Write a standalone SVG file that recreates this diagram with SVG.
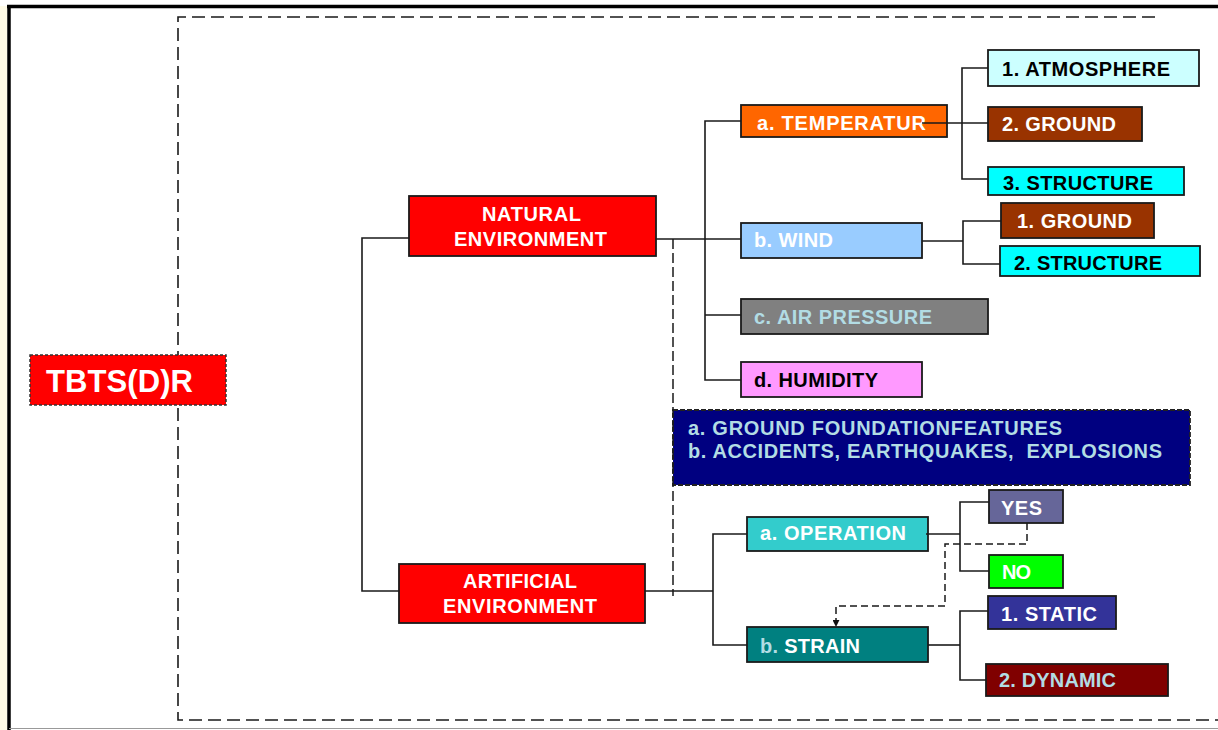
<svg xmlns="http://www.w3.org/2000/svg" width="1218" height="730" viewBox="0 0 1218 730">
  <style>
    text { font-family: "Liberation Sans", Arial, sans-serif; font-weight: bold; font-size: 20px; }
    .box { stroke: #1a1a1a; stroke-width: 1.8; }
    .wire { fill: none; stroke: #1a1a1a; stroke-width: 1.6; }
    .dash { fill: none; stroke: #1a1a1a; stroke-width: 1.5; stroke-dasharray: 7 4; }
    .dash-long { fill: none; stroke: #1a1a1a; stroke-width: 1.5; stroke-dasharray: 10 4; }
    .frame-dash { fill: none; stroke: #1a1a1a; stroke-width: 1.6; stroke-dasharray: 13 6; }
    .w { fill: #ffffff; }
    .k { fill: #000000; }
    .pb { fill: #b2dce4; }
  </style>
  <defs>
    <marker id="arrow" viewBox="0 0 8 8" refX="7" refY="4" markerWidth="7" markerHeight="7" orient="auto" markerUnits="userSpaceOnUse">
      <path d="M0,0 L8,4 L0,8 Z" fill="#111"/>
    </marker>
  </defs>

  <!-- page background and border -->
  <rect x="0" y="0" width="1218" height="730" fill="#ffffff"/>
  <rect x="0" y="6" width="7" height="724" fill="#fffbe6"/>
  <line x1="7" y1="6.5" x2="1218" y2="6.5" stroke="#000" stroke-width="3.5"/>
  <line x1="9" y1="5" x2="9" y2="730" stroke="#000" stroke-width="3.5"/>
  <line x1="9" y1="728.5" x2="1218" y2="728.5" stroke="#999" stroke-width="1.2"/>

  <!-- dashed enclosure -->
  <path class="frame-dash" d="M1155,17 H178 V720 H1218"/>

  <!-- nodes -->
  <g id="node-tbtsdr">
    <rect x="30" y="355" width="196" height="50" fill="#ff0000" stroke="#333" stroke-width="1.5" stroke-dasharray="3 2"/>
    <text x="46" y="392" class="w" style="font-size:31px" textLength="147" lengthAdjust="spacing">TBTS(D)R</text>
  </g>
  <g id="node-natural">
    <rect class="box" x="409" y="196" width="247" height="60" fill="#ff0000"/>
    <text x="482" y="221" class="w" textLength="99" lengthAdjust="spacing">NATURAL</text>
    <text x="454" y="246" class="w" textLength="153" lengthAdjust="spacing">ENVIRONMENT</text>
  </g>
  <g id="node-artificial">
    <rect class="box" x="399" y="564" width="246" height="59" fill="#ff0000"/>
    <text x="463" y="588" class="w" textLength="114" lengthAdjust="spacing">ARTIFICIAL</text>
    <text x="443" y="613" class="w" textLength="154" lengthAdjust="spacing">ENVIRONMENT</text>
  </g>
  <g id="node-temperature">
    <rect class="box" x="741" y="105" width="206" height="32" fill="#ff6600"/>
    <text x="757" y="130" class="w" textLength="169" lengthAdjust="spacing">a. TEMPERATUR</text>
  </g>
  <g id="node-atmosphere">
    <rect class="box" x="988" y="50" width="211" height="36" fill="#ccffff"/>
    <text x="1002" y="76" class="k" textLength="168" lengthAdjust="spacing">1. ATMOSPHERE</text>
  </g>
  <g id="node-temp-ground">
    <rect class="box" x="988" y="107" width="154" height="34" fill="#993300"/>
    <text x="1002" y="131" class="w" textLength="114" lengthAdjust="spacing">2. GROUND</text>
  </g>
  <g id="node-temp-structure">
    <rect class="box" x="988" y="167" width="196" height="28" fill="#00ffff"/>
    <text x="1003" y="190" class="k" textLength="150" lengthAdjust="spacing">3. STRUCTURE</text>
  </g>
  <g id="node-wind">
    <rect class="box" x="741" y="223" width="181" height="35" fill="#99ccff"/>
    <text x="754" y="247" class="w" textLength="79" lengthAdjust="spacing">b. WIND</text>
  </g>
  <g id="node-wind-ground">
    <rect class="box" x="1001" y="203" width="153" height="35" fill="#993300"/>
    <text x="1017" y="228" class="w" textLength="115" lengthAdjust="spacing">1. GROUND</text>
  </g>
  <g id="node-wind-structure">
    <rect class="box" x="1000" y="246" width="200" height="30" fill="#00ffff"/>
    <text x="1014" y="270" class="k" textLength="148" lengthAdjust="spacing">2. STRUCTURE</text>
  </g>
  <g id="node-air-pressure">
    <rect class="box" x="741" y="299" width="247" height="35" fill="#808080"/>
    <text x="754" y="324" class="pb" textLength="178" lengthAdjust="spacing">c. AIR PRESSURE</text>
  </g>
  <g id="node-humidity">
    <rect class="box" x="741" y="362" width="181" height="35" fill="#ff99ff"/>
    <text x="754" y="387" class="k" textLength="124" lengthAdjust="spacing">d. HUMIDITY</text>
  </g>
  <g id="node-foundation">
    <rect x="673" y="410" width="517" height="75" fill="#000080" stroke="#222" stroke-width="1.8" stroke-dasharray="5 2"/>
    <text x="688" y="435" class="pb" textLength="374" lengthAdjust="spacing">a. GROUND FOUNDATIONFEATURES</text>
    <text x="688" y="458" class="pb" textLength="474" lengthAdjust="spacing" xml:space="preserve">b. ACCIDENTS, EARTHQUAKES,  EXPLOSIONS</text>
  </g>
  <g id="node-operation">
    <rect class="box" x="747" y="517" width="181" height="34" fill="#33cccc"/>
    <text x="760" y="540" class="w" textLength="146" lengthAdjust="spacing">a. OPERATION</text>
  </g>
  <g id="node-strain">
    <rect class="box" x="747" y="627" width="181" height="35" fill="#008080"/>
    <text x="760" y="653" class="w" textLength="100" lengthAdjust="spacing"><tspan class="pb">b.</tspan> STRAIN</text>
  </g>
  <g id="node-yes">
    <rect class="box" x="989" y="490" width="74" height="33" fill="#666699"/>
    <text x="1001" y="515" class="w" textLength="41" lengthAdjust="spacing">YES</text>
  </g>
  <g id="node-no">
    <rect class="box" x="989" y="555" width="74" height="33" fill="#00ff00"/>
    <text x="1002" y="579" class="w" textLength="29" lengthAdjust="spacing">NO</text>
  </g>
  <g id="node-static">
    <rect class="box" x="988" y="596" width="128" height="33" fill="#333399"/>
    <text x="1001" y="621" class="w" textLength="96" lengthAdjust="spacing">1. STATIC</text>
  </g>
  <g id="node-dynamic">
    <rect class="box" x="986" y="664" width="182" height="32" fill="#800000"/>
    <text x="999" y="687" class="pb" textLength="117" lengthAdjust="spacing">2. DYNAMIC</text>
  </g>

  <!-- connectors -->
  <g id="connectors">
    <!-- root split -->
    <path class="wire" d="M409,238 H362 V591 H399"/>
    <!-- natural environment branch -->
    <path class="wire" d="M656,239 H741"/>
    <path class="wire" d="M741,121 H705 V380 H741 M705,315 H741"/>
    <path class="dash-long" d="M673,239 V596"/>
    <!-- temperature children -->
    <path class="wire" d="M922,123 H988"/>
    <path class="wire" d="M988,68 H962 V179 H988"/>
    <!-- wind children -->
    <path class="wire" d="M922,241 H963"/>
    <path class="wire" d="M1001,221 H963 V264 H1000"/>
    <!-- artificial environment branch -->
    <path class="wire" d="M645,591 H713"/>
    <path class="wire" d="M747,534 H713 V645 H747"/>
    <!-- operation children -->
    <path class="wire" d="M926,534 H960"/>
    <path class="wire" d="M989,502 H960 V571 H989"/>
    <!-- strain children -->
    <path class="wire" d="M928,645 H960"/>
    <path class="wire" d="M988,611 H960 V680 H986"/>
    <!-- yes feeds back into strain -->
    <path class="dash" d="M1027,523 V544 H945 V606 H836 V626" marker-end="url(#arrow)"/>
  </g>
</svg>
